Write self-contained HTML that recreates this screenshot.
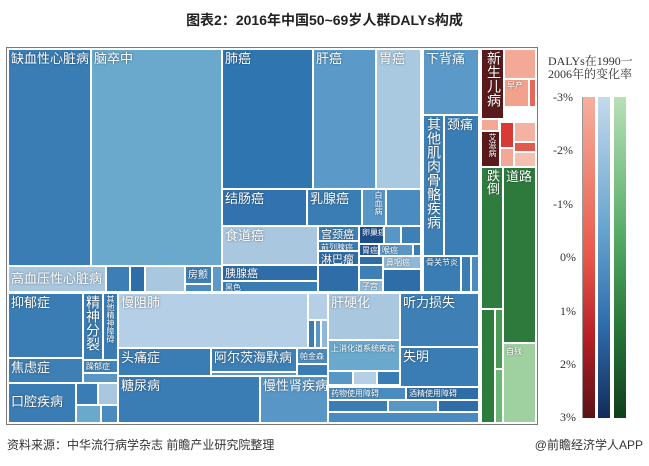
<!DOCTYPE html>
<html><head><meta charset="utf-8"><style>
body{margin:0;width:649px;height:466px;background:#fff;position:relative;overflow:hidden;font-family:"Liberation Sans","Noto Sans CJK SC",sans-serif}
.b{position:absolute;box-sizing:border-box;border:1px solid #fff;color:#fff;font-size:13px;line-height:15px;padding:1px 2px;overflow:hidden;white-space:nowrap;text-shadow:0 0 2px rgba(0,0,0,.5)}
.s{font-size:8px;line-height:9px}
.v{writing-mode:vertical-rl;white-space:nowrap}
.t{position:absolute;font-family:"Liberation Serif","Noto Serif CJK SC",serif;font-size:12px;color:#333}
</style></head><body>
<div style="position:absolute;left:0;top:10px;width:649px;text-align:center;font-size:14px;font-weight:bold;color:#222">图表2：2016年中国50~69岁人群DALYs构成</div>
<div style="position:absolute;left:6px;top:47px;width:532px;height:378px;border:1px solid #777;box-sizing:border-box;background:#fff"></div>

<div class="b" style="left:8px;top:49px;width:83px;height:217px;background:#3a7db5">缺血性心脏病</div>
<div class="b" style="left:91px;top:49px;width:131px;height:217px;background:#6aa8cc">脑卒中</div>
<div class="b" style="left:8px;top:266px;width:98px;height:26px;background:#a8c7df;padding-top:4px">高血压性心脏病</div>
<div class="b" style="left:106px;top:266px;width:24px;height:26px;background:#3d7eb6"></div>
<div class="b" style="left:130px;top:266px;width:15px;height:26px;background:#2f6da8"></div>
<div class="b" style="left:145px;top:266px;width:40px;height:26px;background:#a9c8e0"></div>
<div class="b" style="left:185px;top:266px;width:27px;height:18px;background:#3e80b6;font-size:10px">房颤</div>
<div class="b" style="left:185px;top:284px;width:27px;height:8px;background:#4a8cc0"></div>
<div class="b" style="left:212px;top:266px;width:10px;height:26px;background:#5d9ac8"></div>

<div class="b" style="left:8px;top:293px;width:75px;height:65px;background:#3a7db5">抑郁症</div>
<div class="b" style="left:8px;top:358px;width:75px;height:25px;background:#3e80b6">焦虑症</div>
<div class="b v" style="left:83px;top:293px;width:20px;height:67px;background:#3a7db5;font-size:14px">精神分裂</div>
<div class="b v s" style="left:103px;top:293px;width:15px;height:67px;background:#3a7db5">其他精神障碍</div>
<div class="b s" style="left:83px;top:360px;width:35px;height:13px;background:#4184b9">躁郁症</div>
<div class="b" style="left:83px;top:373px;width:35px;height:10px;background:#5896c6"></div>
<div class="b" style="left:8px;top:383px;width:68px;height:40px;background:#3a7db5;padding-top:10px">口腔疾病</div>
<div class="b" style="left:76px;top:383px;width:22px;height:22px;background:#3a7db5"></div>
<div class="b" style="left:98px;top:383px;width:20px;height:22px;background:#a9c8e0"></div>
<div class="b" style="left:76px;top:405px;width:25px;height:18px;background:#6aa8cc"></div>
<div class="b" style="left:101px;top:405px;width:17px;height:18px;background:#4a8cc0"></div>

<div class="b" style="left:118px;top:293px;width:190px;height:55px;background:#b5d0e6">慢阻肺</div>
<div class="b" style="left:308px;top:293px;width:20px;height:27px;background:#b5d0e6"></div>
<div class="b" style="left:308px;top:320px;width:7px;height:28px;background:#3a7db5"></div>
<div class="b" style="left:315px;top:320px;width:6px;height:28px;background:#5896c6"></div>
<div class="b" style="left:321px;top:320px;width:7px;height:28px;background:#8fb8d8"></div>
<div class="b" style="left:118px;top:348px;width:93px;height:28px;background:#3a7db5">头痛症</div>
<div class="b" style="left:211px;top:348px;width:86px;height:24px;background:#3e80b6">阿尔茨海默病</div>
<div class="b" style="left:211px;top:372px;width:86px;height:4px;background:#5896c6"></div>
<div class="b s" style="left:297px;top:348px;width:31px;height:16px;background:#4a8cc0;padding-top:3px">帕金森</div>
<div class="b" style="left:297px;top:364px;width:31px;height:12px;background:#3a7db5"></div>
<div class="b" style="left:118px;top:376px;width:142px;height:47px;background:#3a7db5">糖尿病</div>
<div class="b" style="left:260px;top:376px;width:68px;height:47px;background:#5896c6">慢性肾疾病</div>

<div class="b" style="left:222px;top:49px;width:91px;height:140px;background:#2f76b1">肺癌</div>
<div class="b" style="left:313px;top:49px;width:63px;height:140px;background:#5b9ac8">肝癌</div>
<div class="b" style="left:376px;top:49px;width:45px;height:140px;background:#a9c9e0">胃癌</div>
<div class="b" style="left:222px;top:189px;width:85px;height:37px;background:#3273af">结肠癌</div>
<div class="b" style="left:307px;top:189px;width:55px;height:37px;background:#3a7db5">乳腺癌</div>
<div class="b v s" style="left:362px;top:189px;width:24px;height:37px;background:#5896c6">白血病</div>
<div class="b" style="left:386px;top:189px;width:35px;height:37px;background:#4a8cc0"></div>
<div class="b" style="left:222px;top:226px;width:96px;height:39px;background:#a9c8e0">食道癌</div>
<div class="b" style="left:318px;top:226px;width:41px;height:15px;background:#3e80b6;font-size:11px">宫颈癌</div>
<div class="b s" style="left:318px;top:241px;width:41px;height:10px;background:#3a7db5">前列腺癌</div>
<div class="b" style="left:318px;top:251px;width:41px;height:14px;background:#2f6da8;font-size:11px">淋巴瘤</div>
<div class="b s" style="left:359px;top:226px;width:25px;height:18px;background:#1f4f8a">卵巢癌</div>
<div class="b" style="left:384px;top:226px;width:17px;height:18px;background:#5896c6"></div>
<div class="b" style="left:401px;top:226px;width:20px;height:18px;background:#3e80b6"></div>
<div class="b s" style="left:359px;top:244px;width:20px;height:12px;background:#24589a">胃癌</div>
<div class="b s" style="left:379px;top:244px;width:34px;height:12px;background:#5896c6">喉癌</div>
<div class="b" style="left:413px;top:244px;width:8px;height:12px;background:#3a7db5"></div>
<div class="b" style="left:359px;top:256px;width:24px;height:9px;background:#2f6da8"></div>
<div class="b s" style="left:383px;top:256px;width:38px;height:13px;background:#8fb8d8">鼻咽癌</div>
<div class="b" style="left:222px;top:265px;width:96px;height:16px;background:#2f6da8;font-size:11px">胰腺癌</div>
<div class="b s" style="left:222px;top:281px;width:96px;height:11px;background:#3a7db5">黑色</div>
<div class="b" style="left:318px;top:265px;width:41px;height:27px;background:#2f6da8"></div>
<div class="b" style="left:359px;top:265px;width:24px;height:15px;background:#3e80b6"></div>
<div class="b s" style="left:359px;top:280px;width:24px;height:12px;background:#8fb8d8">子宫</div>
<div class="b" style="left:383px;top:269px;width:38px;height:23px;background:#2f6da8"></div>

<div class="b" style="left:423px;top:49px;width:56px;height:66px;background:#5b9ac8">下背痛</div>
<div class="b v" style="left:423px;top:115px;width:21px;height:141px;background:#3e80b6;font-size:14px">其他肌肉骨骼疾病</div>
<div class="b" style="left:444px;top:115px;width:35px;height:141px;background:#3a7db5">颈痛</div>
<div class="b s" style="left:423px;top:256px;width:38px;height:36px;background:#3a7db5">骨关节炎</div>
<div class="b" style="left:461px;top:256px;width:10px;height:36px;background:#3a7db5"></div>
<div class="b" style="left:471px;top:256px;width:8px;height:36px;background:#4a8cc0"></div>

<div class="b" style="left:328px;top:293px;width:72px;height:47px;background:#a9c8e0">肝硬化</div>
<div class="b s" style="left:328px;top:340px;width:72px;height:31px;background:#6aa8cc;padding-top:3px">上消化道系统疾病</div>
<div class="b" style="left:328px;top:371px;width:25px;height:14px;background:#5896c6"></div>
<div class="b" style="left:353px;top:371px;width:24px;height:14px;background:#b5d0e6"></div>
<div class="b" style="left:377px;top:371px;width:23px;height:14px;background:#3a7db5"></div>
<div class="b" style="left:400px;top:293px;width:79px;height:54px;background:#3e80b6">听力损失</div>
<div class="b" style="left:400px;top:347px;width:79px;height:40px;background:#3a7db5">失明</div>
<div class="b s" style="left:328px;top:387px;width:78px;height:13px;background:#4a8cc0">药物使用障碍</div>
<div class="b s" style="left:406px;top:387px;width:73px;height:13px;background:#2f6da8">酒精使用障碍</div>
<div class="b" style="left:328px;top:400px;width:60px;height:12px;background:#3a7db5"></div>
<div class="b" style="left:388px;top:400px;width:50px;height:12px;background:#5896c6"></div>
<div class="b" style="left:438px;top:400px;width:41px;height:12px;background:#2f6da8"></div>
<div class="b" style="left:328px;top:412px;width:151px;height:11px;background:#4a8cc0"></div>

<div class="b v" style="left:481px;top:49px;width:23px;height:70px;background:#5a1a1c;font-size:14px">新生儿病</div>
<div class="b" style="left:504px;top:49px;width:32px;height:30px;background:#f4a896"></div>
<div class="b s" style="left:504px;top:79px;width:25px;height:28px;background:#f2a18c">早产</div>
<div class="b" style="left:529px;top:79px;width:7px;height:28px;background:#e8675a"></div>
<div class="b" style="left:481px;top:119px;width:18px;height:12px;background:#f4a896"></div>
<div class="b v s" style="left:481px;top:131px;width:19px;height:36px;background:#5a1a1c">艾滋病</div>
<div class="b" style="left:500px;top:122px;width:14px;height:26px;background:#d93a36"></div>
<div class="b" style="left:514px;top:122px;width:22px;height:20px;background:#f4b2a2"></div>
<div class="b" style="left:514px;top:142px;width:22px;height:10px;background:#e05a4e"></div>
<div class="b" style="left:500px;top:148px;width:14px;height:19px;background:#f2a896"></div>
<div class="b" style="left:514px;top:152px;width:22px;height:15px;background:#f4c0b2"></div>
<div class="b v" style="left:481px;top:167px;width:22px;height:142px;background:#2f7d3e">跌倒</div>
<div class="b" style="left:503px;top:167px;width:33px;height:176px;background:#2e7a3c">道路</div>
<div class="b s" style="left:503px;top:343px;width:33px;height:80px;background:#9fd0a0;padding-top:3px">自残</div>
<div class="b" style="left:481px;top:309px;width:14px;height:114px;background:#2f7d3e"></div>
<div class="b" style="left:495px;top:309px;width:8px;height:60px;background:#4a9a56"></div>
<div class="b" style="left:495px;top:369px;width:8px;height:54px;background:#6cb676"></div>

<div class="t" style="left:548px;top:55px;line-height:13px">DALYs在1990一<br>2006年的变化率</div>
<div style="position:absolute;left:582px;top:97px;width:1px;height:321px;background:#999"></div>
<div class="t" style="left:553px;top:90px">-3%</div>
<div class="t" style="left:553px;top:143px">-2%</div>
<div class="t" style="left:553px;top:197px">-1%</div>
<div class="t" style="left:560px;top:250px">0%</div>
<div class="t" style="left:560px;top:304px">1%</div>
<div class="t" style="left:560px;top:357px">2%</div>
<div class="t" style="left:560px;top:410px">3%</div>
<div style="position:absolute;left:583px;top:97px;width:12px;height:321px;background:linear-gradient(#f6b09d,#e8574a 50%,#b52026 75%,#5a1217)"></div>
<div style="position:absolute;left:598px;top:97px;width:12px;height:321px;background:linear-gradient(#c4d9ec,#6aa6d0 40%,#2f6fae 70%,#132c5c)"></div>
<div style="position:absolute;left:614px;top:97px;width:12px;height:321px;background:linear-gradient(#b8e0b8,#5cb06c 40%,#2a7a3c 70%,#0f3f1c)"></div>

<div style="position:absolute;left:7px;top:436px;font-size:12px;color:#333">资料来源：中华流行病学杂志 前瞻产业研究院整理</div>
<div style="position:absolute;right:6px;top:436px;font-size:12px;color:#333">@前瞻经济学人APP</div>
</body></html>
